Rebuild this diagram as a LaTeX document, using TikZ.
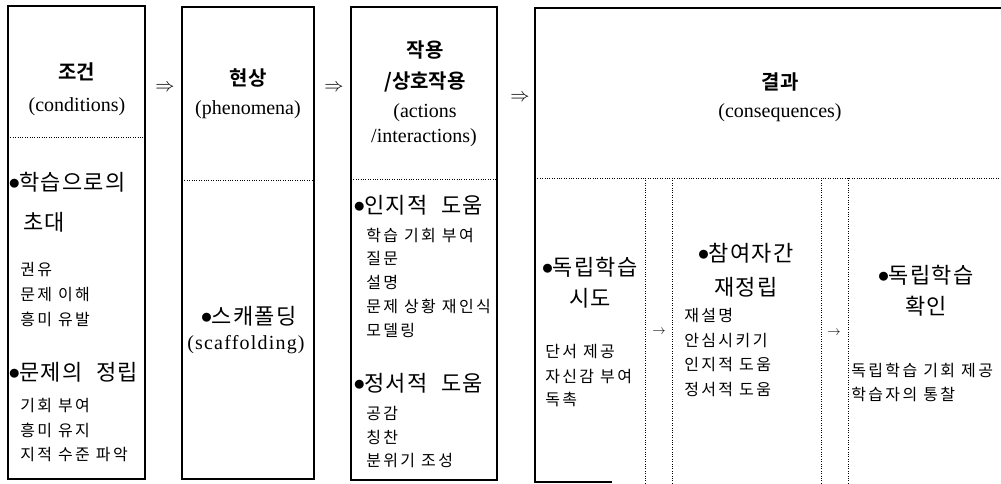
\documentclass[tikz,border=0pt]{standalone}
\usepackage{fontspec}
\setmainfont{Liberation Serif}
\newfontfamily\kr{Noto Sans CJK KR}[LetterSpace=15]
\newfontfamily\krh{Noto Sans CJK KR}[LetterSpace=6,WordSpace=2.2]
\newfontfamily\krbul{Noto Sans CJK KR}
\newfontfamily\krb{Noto Sans CJK KR}[BoldFont={Noto Sans CJK KR Bold}]
\newcommand\bul{{\krbul\fontsize{7.5}{8}\selectfont\raisebox{2.2pt}{●}}}
\begin{document}
\begin{tikzpicture}[x=0.75pt,y=-0.75pt,
  frame/.style={line width=0.9pt},
  dots/.style={line width=0.5pt,dash pattern=on 0.6pt off 1.2pt},
  title/.style={inner sep=0pt,font=\krb\bfseries\fontsize{15}{17}\selectfont},
  latin/.style={inner sep=0pt,font=\fontsize{15}{17}\selectfont},
  head/.style={inner sep=0pt,anchor=west,font=\krh\fontsize{16.5}{19}\selectfont},
  headc/.style={inner sep=0pt,font=\krh\fontsize{16.5}{19}\selectfont},
  item/.style={inner sep=0pt,anchor=west,font=\kr\fontsize{12}{14}\selectfont},
  arr/.style={inner sep=0pt,font=\fontsize{14}{16}\selectfont},
  sarr/.style={inner sep=0pt,font=\fontsize{10}{12}\selectfont}]
\useasboundingbox (0,0) rectangle (1001,483);
% frames
\draw[frame] (8,6) rectangle (145,479);
\draw[frame] (182,7) rectangle (314,479);
\draw[frame] (351,7) rectangle (497,480);
\draw[frame] (1001,8) -- (535,8) -- (535,482) -- (612,482);
% dotted separators
\draw[dots] (8,137) -- (145,137);
\draw[dots] (182,180) -- (314,180);
\draw[dots] (351,179) -- (497,179);
\draw[dots] (535,178) -- (1001,178);
\draw[dots] (645,178) -- (645,483);
\draw[dots] (672,178) -- (672,483);
\draw[dots] (821,178) -- (821,483);
\draw[dots] (848,178) -- (848,483);
% box 1
\node[title] (t1) at (77,72) {조건};
\node[latin] (t1e) at (77,107) {(conditions)};
\node[head] (h11) at (9,182) {\bul 학습으로의};
\node[head] (h11b) at (23,222) {초대};
\node[item] (i111) at (20,270) {권유};
\node[item] (i112) at (20,295) {문제 이해};
\node[item] (i113) at (20,319) {흥미 유발};
\node[head] (h12) at (9,372) {\bul 문제의 정립};
\node[item] (i121) at (20,406) {기회 부여};
\node[item] (i122) at (20,430) {흥미 유지};
\node[item] (i123) at (20,455) {지적 수준 파악};
% box 2
\node[title] (t2) at (248,78) {현상};
\node[latin] (t2e) at (248,110) {(phenomena)};
\node[headc] (h2) at (249,316) {\bul 스캐폴딩};
\node[latin,font=\addfontfeature{LetterSpace=6}\fontsize{15}{17}\selectfont] (h2e) at (246,345) {(scaffolding)};
% box 3
\node[title] (t3) at (425,50) {작용};
\node[title] (t3b) at (425,82) {/상호작용};
\node[latin] (t3e) at (425,113) {(actions};
\node[latin] (t3f) at (424,138) {/interactions)};
\node[head] (h31) at (354,205) {\bul 인지적 도움};
\node[item] (i311) at (366,235) {학습 기회 부여};
\node[item] (i312) at (366,258) {질문};
\node[item] (i313) at (366,282) {설명};
\node[item] (i314) at (366,306) {문제 상황 재인식};
\node[item] (i315) at (366,330) {모델링};
\node[head] (h32) at (354,383) {\bul 정서적 도움};
\node[item] (i321) at (366,413) {공감};
\node[item] (i322) at (366,437) {칭찬};
\node[item] (i323) at (366,461) {분위기 조성};
% box 4
\node[title] (t4) at (780,82) {결과};
\node[latin] (t4e) at (780,113) {(consequences)};
\node[headc] (h41) at (590,267) {\bul 독립학습};
\node[headc] (h41b) at (590,298) {시도};
\node[item] (i411) at (545,352) {단서 제공};
\node[item] (i412) at (545,377) {자신감 부여};
\node[item] (i413) at (545,400) {독촉};
\node[headc] (h42) at (746,253) {\bul 참여자간};
\node[headc] (h42b) at (746,287) {재정립};
\node[item] (i421) at (684,316) {재설명};
\node[item] (i422) at (684,341) {안심시키기};
\node[item] (i423) at (684,365) {인지적 도움};
\node[item] (i424) at (684,390) {정서적 도움};
\node[headc] (h43) at (926,275) {\bul 독립학습};
\node[headc] (h43b) at (926,306) {확인};
\node[item] (i431) at (851,371) {독립학습 기회 제공};
\node[item] (i432) at (851,394) {학습자의 통찰};
% arrows
\node[arr] (a1) at (165,88) {$\Rightarrow$};
\node[arr] (a2) at (334,88) {$\Rightarrow$};
\node[arr] (a3) at (520,98) {$\Rightarrow$};
\node[sarr] (a4) at (659,332) {$\rightarrow$};
\node[sarr] (a5) at (834,333) {$\rightarrow$};
\end{tikzpicture}
\end{document}
